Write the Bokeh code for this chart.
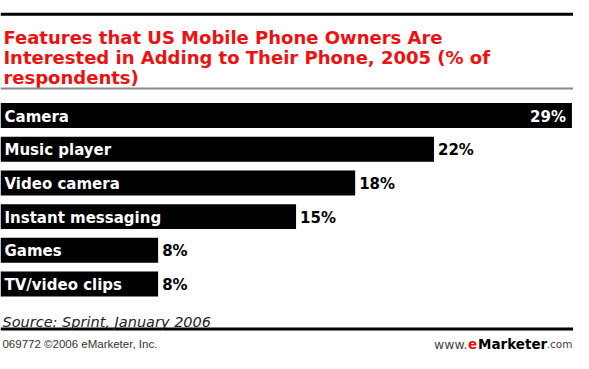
from bokeh.plotting import figure
from bokeh.models import Range1d, Label, Span, ColumnDataSource
from bokeh.core.properties import value
from bokeh.embed import file_html
from bokeh.resources import INLINE

# ---- data ----
categories = ["Camera", "Music player", "Video camera", "Instant messaging", "Games", "TV/video clips"]
values = [29, 22, 18, 15, 8, 8]
value_labels = [f"{v}%" for v in values]

title_lines = [
    "Features that US Mobile Phone Owners Are",
    "Interested in Adding to Their Phone, 2005 (% of",
    "respondents)",
]
source_note = "Source: Sprint, January 2006"
footer_left = "069772 \u00a92006 eMarketer, Inc."
footer_right = ["www.", "e", "Marketer", ".com"]

# ---- layout (reference pixel geometry) ----
W, H = 573, 353
REF_W, REF_H = 589, 369
PX_PER_PCT = 20.36
Y0, PITCH = 120.3, 35.2
x_end = max(REF_W / PX_PER_PCT, max(values) + 0.08)
y_top = -Y0 / PITCH
y_bottom = (REF_H - Y0) / PITCH


def xd(X):
    return X * x_end / REF_W


def yd(Y):
    return y_top + (Y / REF_H) * (y_bottom - y_top)


p = figure(width=W, height=H, x_range=Range1d(0, x_end), y_range=Range1d(y_bottom, y_top),
           output_backend="svg", toolbar_location=None, min_border=0,
           x_axis_location=None, y_axis_location=None)
p.xgrid.visible = False
p.ygrid.visible = False
p.outline_line_color = None
p.background_fill_color = "white"
p.border_fill_color = "white"

idx = list(range(len(categories)))
vmax = max(values)
src = ColumnDataSource(dict(y=idx, val=values, cat=categories, lab=value_labels))
out_i = [i for i, v in enumerate(values) if v != vmax]
in_i = [i for i, v in enumerate(values) if v == vmax]
src_out = ColumnDataSource(dict(y=[idx[i] for i in out_i], val=[values[i] for i in out_i],
                                lab=[value_labels[i] for i in out_i]))
src_in = ColumnDataSource(dict(y=[idx[i] for i in in_i], val=[values[i] for i in in_i],
                               lab=[value_labels[i] for i in in_i]))

p.hbar(y="y", left=0, right="val", height=0.74, source=src, fill_color="black", line_color=None)

FONT = value("DejaVu Sans")
p.text(x=0, y="y", text="cat", source=src, x_offset=4, y_offset=1, text_color="white",
       text_font=FONT, text_font_style="bold", text_font_size="15px", text_baseline="middle")
p.text(x="val", y="y", text="lab", source=src_out, x_offset=4, y_offset=1, text_color="black",
       text_font=FONT, text_font_style="bold", text_font_size="15px", text_baseline="middle")
p.text(x="val", y="y", text="lab", source=src_in, x_offset=-6, y_offset=1, text_color="white",
       text_font=FONT, text_font_style="bold", text_font_size="15px", text_baseline="middle",
       text_align="right")

# title
for line, base in zip(title_lines, [38.5, 59.5, 80.0]):
    p.add_layout(Label(x=xd(3), y=yd(base), text=line, text_color="#ee1111",
                       text_font="DejaVu Sans", text_font_style="bold", text_font_size="18px",
                       text_baseline="alphabetic"))

# rules
p.add_layout(Span(location=yd(14.5), dimension="width", line_color="black", line_width=3))
p.add_layout(Span(location=yd(92), dimension="width", line_color="#8a8a8a", line_width=2))
p.add_layout(Span(location=yd(343.5), dimension="width", line_color="black", line_width=3))

# footer
p.add_layout(Label(x=xd(2), y=yd(336.5), text=source_note, text_color="#222222",
                   text_font="DejaVu Sans", text_font_style="italic", text_font_size="14.5px",
                   text_baseline="alphabetic"))
FOOT_Y = yd(359.5)
p.add_layout(Label(x=xd(2), y=FOOT_Y, text=footer_left, text_color="#333333",
                   text_font="Liberation Sans", text_font_size="11.5px", text_baseline="alphabetic"))
right_edges = [480, 490, 562, 588]
styles = [("normal", "#444444", "12.5px"), ("bold", "#ee1111", "13.5px"),
          ("bold", "black", "13.5px"), ("normal", "#444444", "10.5px")]
for t, xr, (st, col, fs) in zip(footer_right, right_edges, styles):
    p.add_layout(Label(x=xd(xr), y=FOOT_Y, text=t, text_color=col, text_font="DejaVu Sans",
                       text_font_style=st, text_font_size=fs, text_align="right",
                       text_baseline="alphabetic"))

open("out.html", "w").write(file_html(p, INLINE))
